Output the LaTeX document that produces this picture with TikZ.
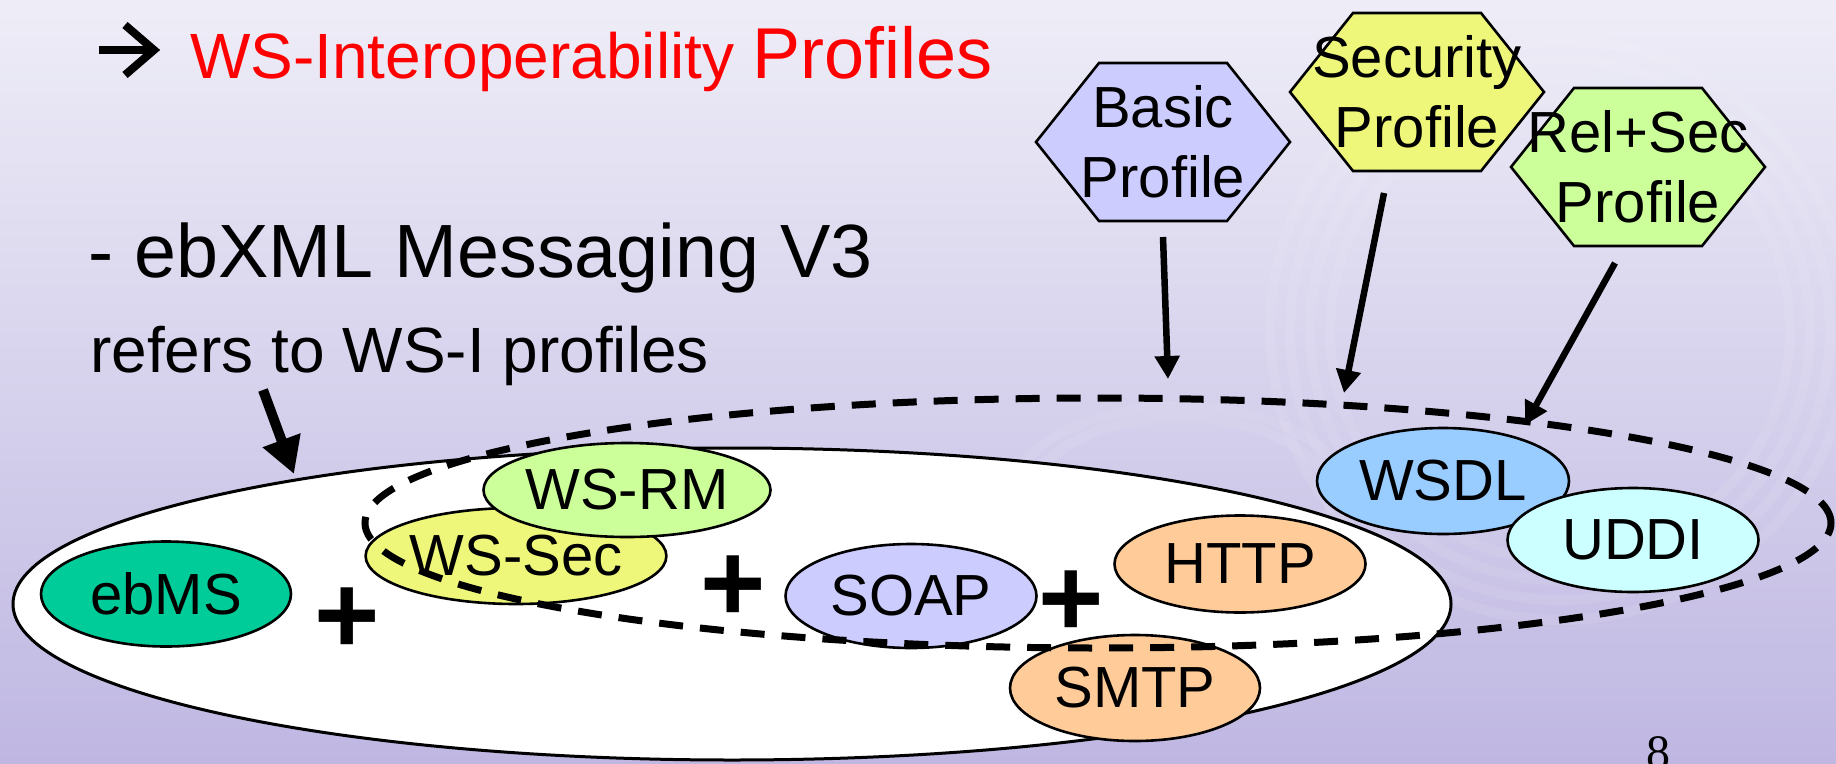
\documentclass[tikz,border=0pt]{standalone}
\usepackage{fontspec}
\setmainfont{Liberation Sans}
\newfontfamily\timesf{Liberation Serif}
\usetikzlibrary{shapes.geometric,arrows.meta}
\definecolor{bgtop}{HTML}{EEEDF7}
\definecolor{bgbot}{HTML}{BFB7E2}
\definecolor{ebmsC}{HTML}{00CC99}
\definecolor{yelC}{HTML}{EFF77A}
\definecolor{grnC}{HTML}{CCFF99}
\definecolor{lilC}{HTML}{CCCCFF}
\definecolor{orC}{HTML}{FFCC99}
\definecolor{bluC}{HTML}{99CCFF}
\definecolor{cyC}{HTML}{CCFFFF}
\definecolor{redT}{HTML}{FF0000}
\newcommand\hexagonat[4]{%
  \path[hexline, fill=#3] #2 ++(-127,0) -- ++(63,-79) -- ++(128,0) -- ++(63,79) -- ++(-63,79) -- ++(-128,0) -- cycle;
  \node[hexlabel] (#1) at #2 {#4};}
\begin{document}
\begin{tikzpicture}[x=1pt,y=-1pt,
  comp/.style={ellipse, draw=black, line width=2.6pt, inner sep=0pt, font=\fontsize{58}{70}\selectfont},
  hexlabel/.style={align=center, inner sep=0pt, minimum width=254pt, minimum height=158pt, font=\fontsize{58}{70}\selectfont},
  hexline/.style={draw=black, line width=2.6pt, line join=miter},
  plus/.style={font=\bfseries\fontsize{112}{112}\selectfont, inner sep=0pt, anchor=base},
  refarrow/.style={line width=6.5pt, -{Triangle[length=23pt,width=24pt]}},
  bigarrow/.style={line width=10pt, -{Triangle[length=36pt,width=38pt]}},
  swirl/.style={draw=white, opacity=0.08, line width=10pt},
  heading/.style={anchor=base west, inner sep=0pt}
  ]
\useasboundingbox (0,0) rectangle (1836,763);
% background
\shade[top color=bgtop, bottom color=bgbot] (0,0) rectangle (1836,763);
\foreach \r in {230,250,270,290} {\draw[swirl] (1560,330) ellipse (\r pt and \r pt);}
\foreach \r in {150,170} {\draw[swirl] (1180,500) ellipse (\r pt and 0.55*\r pt);}

% big white ellipse
\node[ellipse, draw=black, fill=white, line width=3pt, minimum width=1438pt, minimum height=312pt, inner sep=0pt] (ebxml) at (732,604) {};

% components
\node[comp, fill=ebmsC, minimum width=250pt, minimum height=105pt] (ebms) at (166,594) {ebMS};
\node[comp, fill=yelC, minimum width=252pt, minimum height=96pt] (wssec) at (516,556) {WS-Sec};
\node[comp, fill=grnC, minimum width=252pt, minimum height=94pt] (wsrm) at (627,490) {WS-RM};
\node[comp, fill=lilC, minimum width=251pt, minimum height=104pt] (soap) at (911,596) {SOAP};
\node[comp, fill=orC, minimum width=251pt, minimum height=97pt] (http) at (1240,564) {HTTP};
\node[comp, fill=orC, minimum width=250pt, minimum height=106pt] (smtp) at (1135,688) {SMTP};
\node[comp, fill=bluC, minimum width=252pt, minimum height=106pt] (wsdl) at (1443,481) {WSDL};
\node[comp, fill=cyC, minimum width=251pt, minimum height=104pt] (uddi) at (1633,540) {UDDI};

% plus signs
\node[plus] (p1) at (347,653) {+};
\node[plus] (p2) at (733,621) {+};
\node[plus] (p3) at (1071,636) {+};

% dashed WS-I ellipse
\node[ellipse, draw=black, line width=7pt, dash pattern=on 24pt off 17pt, minimum width=1466pt, minimum height=250pt, inner sep=0pt] (wsi) at (1098,523) {};

% profiles
\hexagonat{basic}{(1163,142)}{lilC}{Basic\\Profile}
\hexagonat{security}{(1417,92)}{yelC}{Security\\Profile}
\hexagonat{relsec}{(1638,167)}{grnC}{Rel+Sec\\Profile}

% arrow ends
\coordinate (basicFrom) at (1163,237);
\coordinate (basicTo) at (1168,379);
\coordinate (secFrom) at (1384,193);
\coordinate (secTo) at (1344,393);
\coordinate (relFrom) at (1615,263);
\coordinate (relTo) at (1525,425);
\coordinate (refFrom) at (263,390);
\coordinate (refTo) at (294,474);
\draw[refarrow] (basicFrom) -- (basicTo);
\draw[refarrow] (secFrom) -- (secTo);
\draw[refarrow] (relFrom) -- (relTo);
\draw[bigarrow] (refFrom) -- (refTo);

% bullet arrow (Wingdings-style)
\coordinate (bulL) at (99,50);
\coordinate (bulT) at (154,50);
\draw[line width=8pt] (bulL) -- (bulT);
\draw[line width=8pt, line join=miter, miter limit=4] (125,25) -- (bulT) -- (125,75);

% headings
\node[heading, text=redT, font=\fontsize{64}{70}\selectfont] (title) at (190,78) {WS-Interoperability {\fontsize{72}{72}\selectfont Profiles}};
\node[heading, font=\fontsize{75.5}{80}\selectfont] (ebxmlv3) at (88,277) {- ebXML Messaging V3};
\node[heading, font=\fontsize{64}{70}\selectfont] (refers) at (90,372) {refers to WS-I profiles};
\node[anchor=base, inner sep=0pt, font=\timesf\fontsize{48}{48}\selectfont] (page) at (1658,768) {8};
\end{tikzpicture}
\end{document}
